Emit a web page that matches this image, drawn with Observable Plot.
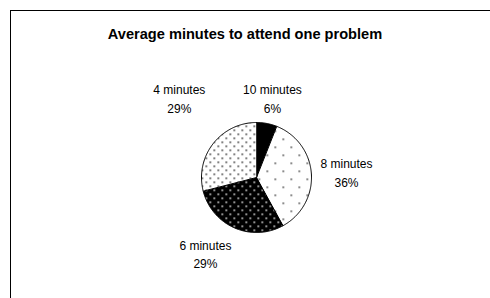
<!DOCTYPE html>
<html>
<head>
<meta charset="utf-8">
<script src="https://cdn.jsdelivr.net/npm/d3@7"></script>
<script src="https://cdn.jsdelivr.net/npm/@observablehq/plot@0.6"></script>
<style>
  html, body { margin: 0; padding: 0; background: #fff; }
  #wrap { position: relative; width: 490px; height: 298px; overflow: hidden; font-family: "Liberation Sans", Arial, sans-serif; }
  #frame { position: absolute; left: 10px; top: 10px; width: 520px; height: 320px; border: 1px solid #000; box-sizing: border-box; }
  #title { position: absolute; left: 0; top: 26px; width: 490px; text-align: center; font-weight: bold; font-size: 14.6px; color: #000; }
  #chart { position: absolute; left: 0; top: 0; }
</style>
</head>
<body>
<div id="wrap">
  <div id="frame"></div>
  <div id="chart"></div>
  <div id="title">Average minutes to attend one problem</div>
</div>
<script>
// ---- data ----
const categories = ["10 minutes", "8 minutes", "6 minutes", "4 minutes"];
const shares = [6, 36, 29, 29];
const percentLabels = ["6%", "36%", "29%", "29%"];
const patterns = ["p10", "p8", "p6", "p4"];

// ---- layout (label placement relative to slice mid-angle, in radii / degrees) ----
const labelRadius = [1.48, 1.64, 1.66, 2.02];
const labelAngleShift = [0.5, -0.2, 10.6, 8.2];

const W = 490, H = 298, cx = 256, cy = 177, R = 55;

const pie = d3.pie().sort(null).value(d => d.share).startAngle(0).endAngle(2 * Math.PI);
const rows = categories.map((c, i) => ({name: c, share: shares[i], pct: percentLabels[i], pat: `url(#${patterns[i]})`, i}));
const arcs = pie(rows);

// polygon points of each slice in unit-circle coordinates (y up)
const pts = [];
for (const a of arcs) {
  const n = Math.max(2, Math.ceil((a.endAngle - a.startAngle) / (Math.PI / 180)));
  pts.push({name: a.data.name, pat: a.data.pat, x: 0, y: 0});
  for (let k = 0; k <= n; k++) {
    const t = a.startAngle + (a.endAngle - a.startAngle) * k / n;
    pts.push({name: a.data.name, pat: a.data.pat, x: Math.sin(t), y: Math.cos(t)});
  }
}

const labels = arcs.map((a, i) => {
  const mid = (a.startAngle + a.endAngle) / 2 + labelAngleShift[i] * Math.PI / 180;
  return {x: labelRadius[i] * Math.sin(mid), y: labelRadius[i] * Math.cos(mid), text: a.data.name + "\n" + a.data.pct};
});

const defs = () => {
  const svg = d3.create("svg:defs");
  const p10 = svg.append("pattern").attr("id", "p10").attr("patternUnits", "userSpaceOnUse").attr("width", 4).attr("height", 4);
  p10.append("rect").attr("width", 4).attr("height", 4).attr("fill", "#000");
  const p8 = svg.append("pattern").attr("id", "p8").attr("patternUnits", "userSpaceOnUse").attr("width", 16).attr("height", 16);
  p8.append("rect").attr("width", 16).attr("height", 16).attr("fill", "#fff");
  p8.append("rect").attr("x", 2).attr("y", 2).attr("width", 1.5).attr("height", 1.5).attr("fill", "#333");
  p8.append("rect").attr("x", 10).attr("y", 10).attr("width", 1.5).attr("height", 1.5).attr("fill", "#333");
  const p6 = svg.append("pattern").attr("id", "p6").attr("patternUnits", "userSpaceOnUse").attr("width", 8).attr("height", 8);
  p6.append("rect").attr("width", 8).attr("height", 8).attr("fill", "#000");
  p6.append("rect").attr("x", 1).attr("y", 1).attr("width", 1.5).attr("height", 1.5).attr("fill", "#fff");
  p6.append("rect").attr("x", 5).attr("y", 5).attr("width", 1.5).attr("height", 1.5).attr("fill", "#fff");
  const p4 = svg.append("pattern").attr("id", "p4").attr("patternUnits", "userSpaceOnUse").attr("width", 8).attr("height", 8);
  p4.append("rect").attr("width", 8).attr("height", 8).attr("fill", "#fff");
  p4.append("rect").attr("x", 1).attr("y", 1).attr("width", 1.5).attr("height", 1.5).attr("fill", "#222");
  p4.append("rect").attr("x", 5).attr("y", 5).attr("width", 1.5).attr("height", 1.5).attr("fill", "#222");
  return svg.node();
};

const chart = Plot.plot({
  width: W,
  height: H,
  margin: 0,
  style: {background: "transparent", fontFamily: "Liberation Sans, Arial, sans-serif"},
  x: {domain: [-cx / R, (W - cx) / R], axis: null},
  y: {domain: [-(H - cy) / R, cy / R], axis: null},
  color: {type: "identity"},
  marks: [
    defs,
    Plot.line(pts, {x: "x", y: "y", z: "name", fill: "pat", stroke: "#000", strokeWidth: 1, curve: "linear-closed"}),
    Plot.text(labels, {x: "x", y: "y", text: "text", fontSize: 12, lineHeight: 1.55, fill: "#000", textAnchor: "middle"})
  ]
});
document.getElementById("chart").appendChild(chart);
</script>
</body>
</html>
